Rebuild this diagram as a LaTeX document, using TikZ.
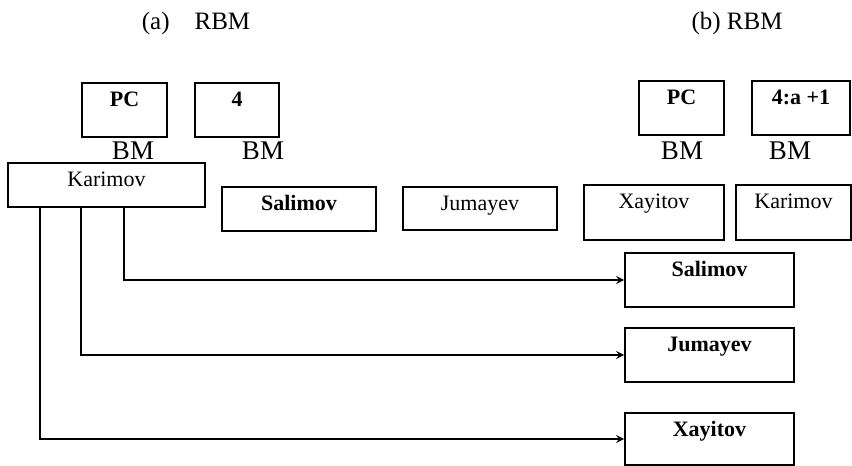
\documentclass[tikz,border=0pt]{standalone}
\usepackage{fontspec}
\setmainfont{Liberation Serif}
\begin{document}
\begin{tikzpicture}[x=0.5pt, y=-0.5pt, >=stealth, line width=0.8pt,
    box/.style 2 args={draw, inner xsep=0pt, inner ysep=0pt, minimum width=#1*0.5pt,
        text height=11.5pt, text depth=#2*0.5pt-11.5pt, font=\fontsize{11}{13}\selectfont},
    boldbox/.style 2 args={box={#1}{#2}, font=\fontsize{11}{13}\selectfont\bfseries},
    bm/.style={font=\fontsize{13.5}{15}\selectfont},
    title/.style={font=\fontsize{12.5}{14}\selectfont}]
        \useasboundingbox (0,0) rectangle (852,466);
        % Nodes
        \node[boldbox={85}{54}] (PCa) at (124.5,110) {PC};
        \node[boldbox={84}{54}] (Fa) at (237,110) {4};
        \node[boldbox={85}{54}] (PCb) at (681.5,108) {PC};
        \node[boldbox={98}{54}] (Fb) at (801,108) {4:a +1};
        \node[box={197}{44}] (KarA) at (106.5,185) {Karimov};
        \node[boldbox={154}{44}] (SalA) at (299,209) {Salimov};
        \node[box={154}{43}] (JumA) at (480,208.5) {Jumayev};
        \node[box={140}{55}] (XayB) at (654,212.5) {Xayitov};
        \node[box={115}{55}] (KarB) at (793.5,212.5) {Karimov};
        \node[boldbox={169}{54}] (SalR) at (709.5,280) {Salimov};
        \node[boldbox={169}{54}] (JumR) at (709.5,355) {Jumayev};
        \node[boldbox={169}{52}] (XayR) at (709.5,439) {Xayitov};
        
        % Edges
        \draw[->] ([xshift=58.5pt]KarA.south west) |- (SalR.west);
        \draw[->] ([xshift=37pt]KarA.south west) |- (JumR.west);
        \draw[->] ([xshift=16.5pt]KarA.south west) |- (XayR.west);
        
        % Labels
        \node[bm] (BMa1) at (133,151) {BM};
        \node[bm] (BMa2) at (263,151) {BM};
        \node[bm] (BMb1) at (682,151) {BM};
        \node[bm] (BMb2) at (790,151) {BM};
        \node[title] (TitleA) at (196,23) {(a)\quad RBM};
        \node[title] (TitleB) at (737,23) {(b) RBM};
    \end{tikzpicture}
\end{document}
